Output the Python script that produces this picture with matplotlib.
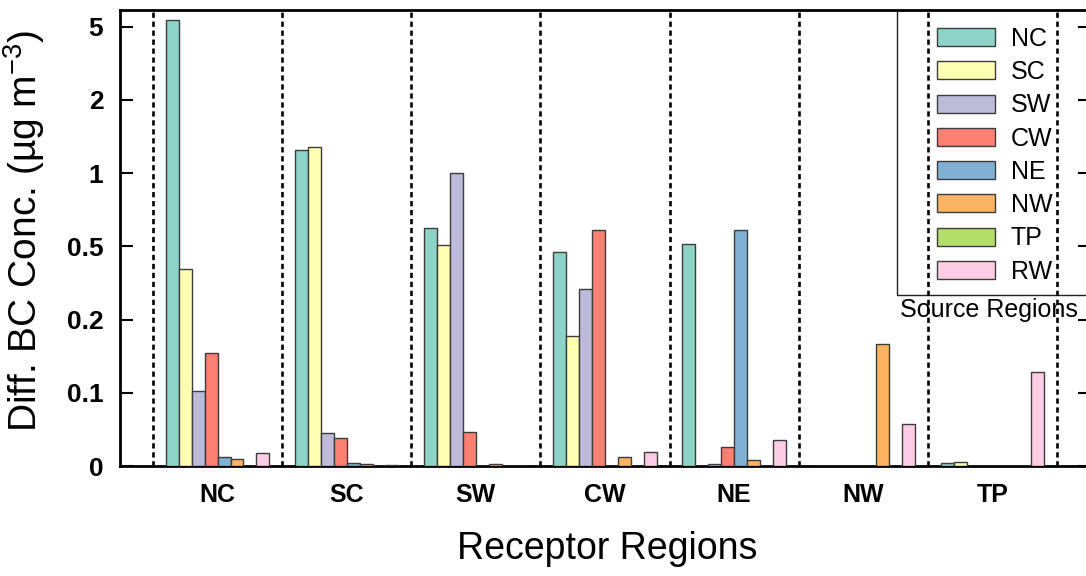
import numpy as np
import matplotlib
matplotlib.use("Agg")
import matplotlib.pyplot as plt
from matplotlib.patches import Rectangle, Patch

plt.rcParams['font.family'] = ['Liberation Sans', 'DejaVu Sans']
plt.rcParams['mathtext.fontset'] = 'custom'
plt.rcParams['mathtext.rm'] = 'Liberation Sans'
plt.rcParams['mathtext.it'] = 'Liberation Sans:italic'
plt.rcParams['mathtext.bf'] = 'Liberation Sans:bold'

# ---------------- data ----------------
receptors = ["NC", "SC", "SW", "CW", "NE", "NW", "TP"]
sources = ["NC", "SC", "SW", "CW", "NE", "NW", "TP", "RW"]
colors = ["#8DD3C7", "#FFFFB3", "#BEBADA", "#FB8072",
          "#80B1D3", "#FDB462", "#B3DE69", "#FCCDE5"]

# values per source region, one entry per receptor region
src_NC = [5.27, 1.32, 0.625, 0.478, 0.514, 0.0, 0.0036]
src_SC = [0.409, 1.355, 0.507, 0.177, 0.0, 0.0, 0.0059]
src_SW = [0.103, 0.0454, 1.0, 0.325, 0.0025, 0.0, 0.0]
src_CW = [0.1545, 0.0386, 0.046, 0.611, 0.0264, 0.0, 0.0]
src_NE = [0.0118, 0.0036, 0.0, 0.0, 0.609, 0.0, 0.0]
src_NW = [0.0091, 0.0023, 0.0027, 0.0118, 0.0077, 0.1664, 0.0]
src_TP = [0.0, 0.0, 0.0, 0.0, 0.0, 0.0, 0.0]
src_RW = [0.0177, 0.0012, 0.0, 0.019, 0.0359, 0.0568, 0.1277]
series = [src_NC, src_SC, src_SW, src_CW, src_NE, src_NW, src_TP, src_RW]

ytick_vals = [0, 0.1, 0.2, 0.5, 1, 2, 5]
ytick_labels = ["0", "0.1", "0.2", "0.5", "1", "2", "5"]

# ---------------- custom y scale (equal spacing between ticks) ----------------
_tv = np.array(ytick_vals, float)
_tp = np.arange(len(ytick_vals), dtype=float)


def fwd(x):
    x = np.asarray(x, float)
    y = np.interp(x, _tv, _tp)
    hi = x > _tv[-1]
    y = np.where(hi, _tp[-1] + (x - _tv[-1]) / (_tv[-1] - _tv[-2]), y)
    lo = x < _tv[0]
    y = np.where(lo, (x - _tv[0]) / (_tv[1] - _tv[0]), y)
    return y


def inv(y):
    y = np.asarray(y, float)
    x = np.interp(y, _tp, _tv)
    hi = y > _tp[-1]
    x = np.where(hi, _tv[-1] + (y - _tp[-1]) * (_tv[-1] - _tv[-2]), x)
    lo = y < _tp[0]
    x = np.where(lo, _tv[0] + y * (_tv[1] - _tv[0]), x)
    return x


# ---------------- figure ----------------
fig = plt.figure(figsize=(10.86, 5.76), dpi=100)
ax = fig.add_axes([120 / 1086, 110 / 576, 970 / 1086, 456 / 576])
ax.set_yscale('function', functions=(fwd, inv))

nsrc = len(sources)
bw = 0.1
xg = np.arange(len(receptors))
for j, (vals, c, name) in enumerate(zip(series, colors, sources)):
    ax.bar(xg + (j - (nsrc - 1) / 2) * bw, vals, width=bw, color=c,
           edgecolor="#3c3c3c", linewidth=1.0, zorder=3, label=name)

# dotted separators
for b in np.arange(-0.5, len(receptors) + 0.5, 1.0):
    ax.axvline(b, color="black", linestyle=(0, (2.0, 1.4)), linewidth=1.9, zorder=5)

ax.set_xlim(-0.756, len(receptors) - 1 + 0.756)
ax.set_ylim(0, 5.68)

ax.set_yticks(ytick_vals)
ax.set_yticklabels(ytick_labels)
ax.yaxis.set_minor_locator(matplotlib.ticker.NullLocator())
ax.tick_params(axis='y', which='major', direction='in', length=9, width=1.5,
               labelsize=19, pad=12, right=True, left=True)
for lab in ax.get_yticklabels():
    lab.set_fontweight('bold')

ax.set_xticks(xg)
ax.set_xticklabels(receptors, fontsize=18, fontweight='bold')
ax.tick_params(axis='x', length=0, pad=12)

for s in ax.spines.values():
    s.set_linewidth(2.0)

ax.set_xlabel("Receptor Regions", fontsize=27)
ax.set_ylabel(r"Diff. BC Conc. (µg m$^{-3}$)", fontsize=28)
ax.xaxis.set_label_coords(0.502, -0.142)
ax.yaxis.set_label_coords(-0.075, 0.515)

# legend frame and legend
frame = Rectangle((0.801, 0.375), 0.4, 0.7, transform=ax.transAxes,
                  facecolor='none', edgecolor='#222222', linewidth=1.0,
                  zorder=2, clip_on=True)
ax.add_patch(frame)
handles = [Patch(facecolor=c, edgecolor="#3c3c3c", linewidth=1.0) for c in colors]
leg = ax.legend(handles, sources, loc='upper left',
                bbox_to_anchor=(0.842, 0.963), frameon=False, fontsize=18,
                handlelength=2.35, handleheight=0.72, handletextpad=0.62,
                labelspacing=0.37, borderpad=0, borderaxespad=0)
leg.set_zorder(4)
ax.text(0.804, 0.342, "Source Regions", transform=ax.transAxes, fontsize=18,
        ha='left', va='center', zorder=2)

fig.savefig("out.png", dpi=100)
